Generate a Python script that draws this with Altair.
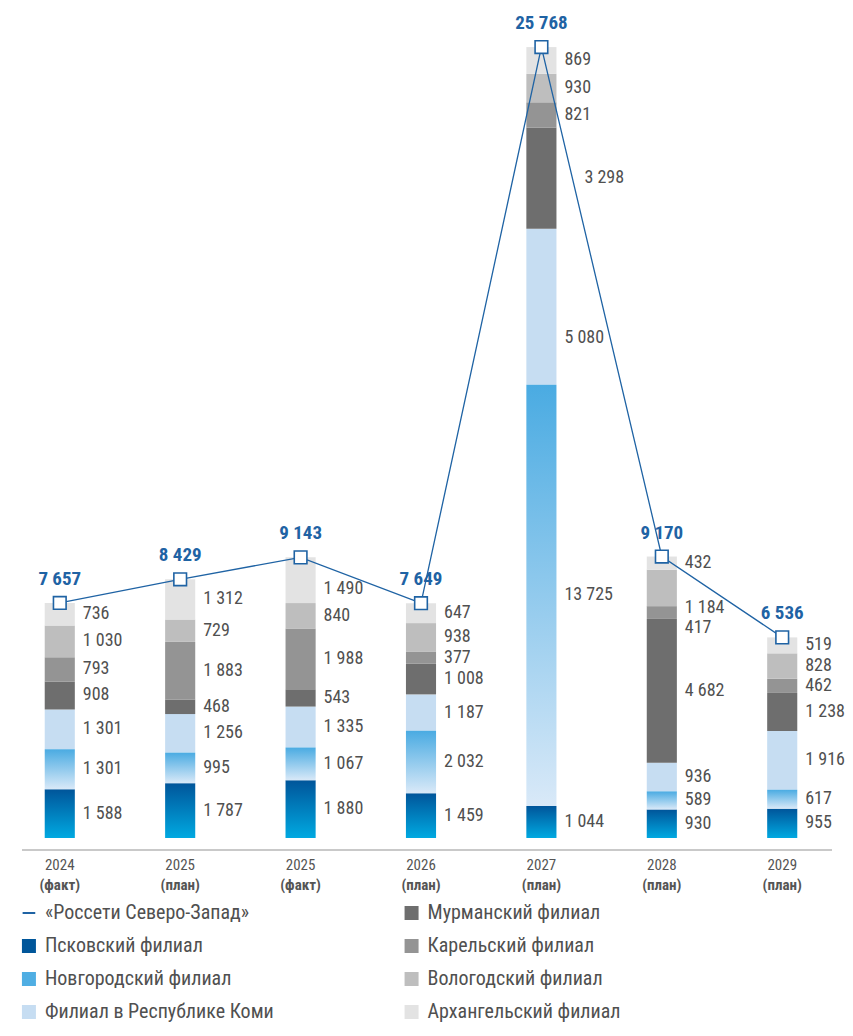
import altair as alt
import pandas as pd

# ---------------- data ----------------
categories = ["2024 (факт)", "2025 (план)", "2025 (факт)", "2026 (план)",
              "2027 (план)", "2028 (план)", "2029 (план)"]
kinds = ["(факт)", "(план)", "(факт)", "(план)", "(план)", "(план)", "(план)"]
totals = [7657, 8429, 9143, 7649, 25768, 9170, 6536]
line_name = "«Россети Северо-Запад»"
series_names = ["Псковский филиал", "Новгородский филиал", "Филиал в Республике Коми",
                "Мурманский филиал", "Карельский филиал", "Вологодский филиал",
                "Архангельский филиал"]
pskov = [1588, 1787, 1880, 1459, 1044, 930, 955]
novgorod = [1301, 995, 1067, 2032, 13725, 589, 617]
komi = [1301, 1256, 1335, 1187, 5080, 936, 1916]
murmansk = [908, 468, 543, 1008, 3298, 4682, 1238]
karelia = [793, 1883, 1988, 377, 821, 417, 462]
vologda = [1030, 729, 840, 938, 930, 1184, 828]
arkhangelsk = [736, 1312, 1490, 647, 869, 432, 519]
all_series = [pskov, novgorod, komi, murmansk, karelia, vologda, arkhangelsk]

bar_colors = ["#00569A", "#4FAEE3", "#C6DDF2", "#6E6E6E", "#949494", "#BEBEBE", "#E3E3E3"]
legend_colors = ["#0A5A9C", "#4FAFE4", "#C2DBF2", "#6E6E6E", "#949494", "#BEBEBE", "#E3E3E3"]

FONT = "Roboto Condensed, DejaVu Sans Condensed, sans-serif"
PLOT_W, PLOT_H = 826, 830
YMAX = 27040
BLUE = "#1F63A4"
TXT = "#505050"
PAD_IN, PAD_OUT = 0.75, 0.305
STEP_PX = PLOT_W / (len(categories) - PAD_IN + 2 * PAD_OUT)
HALF_BAND = STEP_PX * (1 - PAD_IN) / 2
LABEL_DX = 23
LABEL_FS = 18
UNITS_PER_PX = YMAX / PLOT_H


def fmt(v):
    return f"{v:,}".replace(",", " ")


def text_w(s):
    return sum(0.23 if ch == " " else 0.49 for ch in s) * LABEL_FS


def line_off(i, v):
    """horizontal px offset (from bar centre) of the descending total line at value v"""
    if i + 1 < len(categories) and totals[i + 1] < totals[i]:
        t = (totals[i] - v) / (totals[i] - totals[i + 1])
        if 0 < t < 1:
            return t * STEP_PX
    return None


gap_units = 20 * UNITS_PER_PX
half_h = 6 * UNITS_PER_PX
rows = []
for i, cat in enumerate(categories):
    base = 0
    recs = []
    for s, vals in zip(series_names, all_series):
        v = vals[i]
        recs.append(dict(cat=cat, series=s, y0=base, y1=base + v, mid=base + v / 2,
                         value=v, label=fmt(v), dx=LABEL_DX))
        base += v
    prev = None
    for r in reversed(recs):
        pos = r["mid"]
        if prev is not None and pos > prev - gap_units:
            pos = prev - gap_units
        # keep the label (its top edge) clear of the descending total line
        off_top = line_off(i, pos + half_h)
        w = text_w(r["label"])
        if off_top is not None and LABEL_DX - 4 <= off_top <= LABEL_DX + w + 5:
            t_need = (LABEL_DX + w + 5) / STEP_PX
            v_new = totals[i] - t_need * (totals[i] - totals[i + 1]) - half_h
            if v_new >= r["y0"] - gap_units:
                pos = v_new
            else:
                r["dx"] = (line_off(i, pos) or off_top) + 12
        r["pos"] = pos
        prev = pos
    rows.extend(recs)
stack_df = pd.DataFrame(rows)
stack_df["lx"] = stack_df["dx"] + HALF_BAND
tot_df = pd.DataFrame(dict(cat=categories, total=totals, label=[fmt(t) for t in totals],
                           kind=kinds))

x_enc = alt.X("cat:N", sort=categories,
              scale=alt.Scale(paddingInner=PAD_IN, paddingOuter=PAD_OUT),
              axis=alt.Axis(title=None, labelExpr="split(datum.value, ' ')[0]",
                            domain=False, ticks=False, labelPadding=19,
                            labelFontSize=15, labelColor="#555555", labelFont=FONT,
                            labelAngle=0))
y_scale = alt.Scale(domain=[0, YMAX], nice=False)

base = alt.Chart(stack_df)

flat = base.transform_filter(
    (alt.datum.series != series_names[0]) & (alt.datum.series != series_names[1])
).mark_bar().encode(
    x=x_enc,
    y=alt.Y("y0:Q", scale=y_scale, axis=None),
    y2="y1:Q",
    color=alt.Color("series:N", scale=alt.Scale(domain=series_names, range=bar_colors),
                    legend=None),
)


def grad_layer(name, top, bottom):
    return base.transform_filter(alt.datum.series == name).mark_bar(
        color=alt.Gradient(gradient="linear",
                           stops=[alt.GradientStop(color=top, offset=0),
                                  alt.GradientStop(color=bottom, offset=1)],
                           x1=0, x2=0, y1=0, y2=1)
    ).encode(x=x_enc, y=alt.Y("y0:Q", scale=y_scale, axis=None), y2="y1:Q")


g_pskov = grad_layer(series_names[0], "#00559A", "#00A9E1")
g_novg = grad_layer(series_names[1], "#4AABE2", "#D9E9F8")

seg_labels = base.mark_text(align="left", baseline="middle", fontSize=LABEL_FS,
                            color=TXT, font=FONT).encode(
    x=x_enc, y=alt.Y("pos:Q", scale=y_scale, axis=None), text="label:N",
    xOffset=alt.XOffset("lx:Q", scale=None))

tbase = alt.Chart(tot_df)
line = tbase.mark_line(color=BLUE, strokeWidth=1.3).encode(
    x=x_enc, y=alt.Y("total:Q", scale=y_scale, axis=None))
pts = tbase.mark_point(shape="square", size=160, filled=True, fill="white",
                       stroke=BLUE, strokeWidth=1.6, opacity=1).encode(
    x=x_enc, y=alt.Y("total:Q", scale=y_scale, axis=None))
tot_labels = tbase.mark_text(dy=-24, fontSize=19, fontWeight="bold", color=BLUE,
                             font=FONT).encode(
    x=x_enc, y=alt.Y("total:Q", scale=y_scale, axis=None), text="label:N")
kind_labels = tbase.mark_text(fontSize=15, fontWeight="bold", color="#555555",
                              font=FONT, baseline="middle").encode(
    x=x_enc, y=alt.value(PLOT_H + 47), text="kind:N")
baseline_rule = tbase.mark_rule(color="#C9C9C9", strokeWidth=1.5).encode(
    x=alt.value(14), x2=alt.value(824), y=alt.value(PLOT_H + 12))

main = alt.layer(flat, g_pskov, g_novg, seg_labels, line, pts, tot_labels,
                 kind_labels, baseline_rule).properties(width=PLOT_W, height=PLOT_H)

# ---------------- legend ----------------
leg_names = [line_name] + series_names
leg_col = [0, 0, 0, 0, 1, 1, 1, 1]
leg_row = [0, 1, 2, 3, 0, 1, 2, 3]
leg_df = pd.DataFrame(dict(name=leg_names, col=leg_col, row=leg_row))
LEG_H = 112
ROW_PX = 33
ROW0 = 10
lx = alt.X("col:Q", scale=alt.Scale(domain=[-0.0547, 2.104], nice=False, zero=False),
           axis=None)
ly = alt.Y("row:Q", scale=alt.Scale(domain=[-ROW0 / ROW_PX, (LEG_H - ROW0) / ROW_PX],
                                    reverse=True, nice=False, zero=False), axis=None)
lbase = alt.Chart(leg_df)
leg_sq = lbase.transform_filter(alt.datum.name != line_name).mark_point(
    shape="square", filled=True, size=196, opacity=1).encode(
    x=lx, y=ly,
    color=alt.Color("name:N", scale=alt.Scale(domain=series_names, range=legend_colors),
                    legend=None))
leg_dash = lbase.transform_filter(alt.datum.name == line_name).mark_point(
    shape="stroke", size=160, stroke=BLUE, strokeWidth=2, opacity=1).encode(
    x=lx, y=ly)
leg_txt = lbase.mark_text(align="left", baseline="middle", dx=16, fontSize=20,
                          color=TXT, font=FONT).encode(
    x=lx, y=ly, text="name:N")
legend = alt.layer(leg_sq, leg_dash, leg_txt).properties(width=PLOT_W, height=LEG_H)

chart = alt.vconcat(main, legend, spacing=65, bounds="flush").properties(
    padding=0).configure(font=FONT).configure_view(stroke=None)

chart.save("out.html", embed_options={"renderer": "svg", "actions": False})
